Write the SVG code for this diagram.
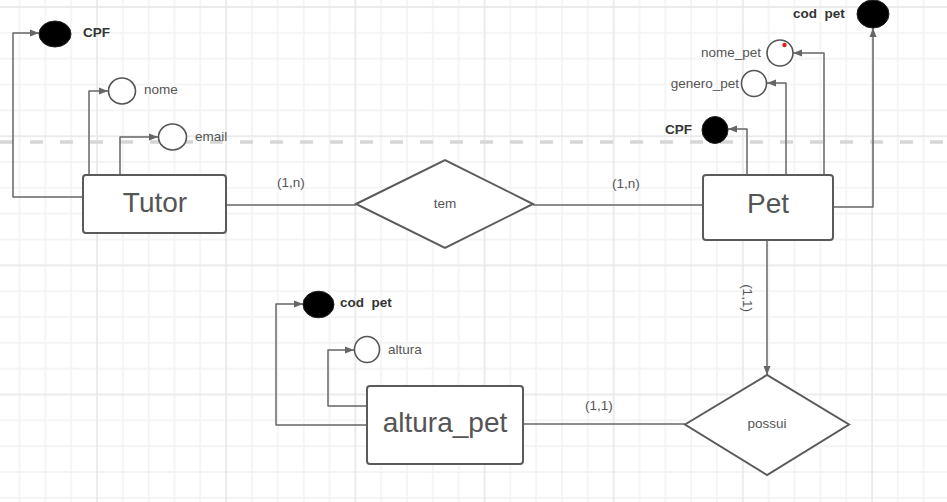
<svg xmlns="http://www.w3.org/2000/svg" width="947" height="502" viewBox="0 0 947 502">
<style>
.ent{fill:#fff;stroke:#5a5a5a;stroke-width:2}
.rel{fill:#fff;stroke:#5a5a5a;stroke-width:2}
.att{fill:#fff;stroke:#555;stroke-width:1.6}
.key{fill:#000;stroke:#222;stroke-width:1}
.con{fill:none;stroke:#666;stroke-width:1.5;stroke-linejoin:round}
.big{font-family:"Liberation Sans",Arial,sans-serif;font-size:28px;fill:#555;text-anchor:middle}
.lbl{font-family:"Liberation Sans",Arial,sans-serif;font-size:13.5px;fill:#555}
.bold{font-family:"Liberation Sans",Arial,sans-serif;font-size:13.5px;font-weight:bold;fill:#333}
.mid{text-anchor:middle}
.end{text-anchor:end}
</style>
<defs>
<pattern id="grid" patternUnits="userSpaceOnUse" x="84.083" y="-5.917" width="129.167" height="129.167">
<rect x="38" y="0" width="1.5" height="129.167" fill="#f2f2f2"/>
<rect x="63.83" y="0" width="1.5" height="129.167" fill="#f2f2f2"/>
<rect x="89.67" y="0" width="1.5" height="129.167" fill="#f2f2f2"/>
<rect x="115.5" y="0" width="1.5" height="129.167" fill="#f2f2f2"/>
<rect x="0" y="38" width="129.167" height="1.5" fill="#f2f2f2"/>
<rect x="0" y="63.83" width="129.167" height="1.5" fill="#f2f2f2"/>
<rect x="0" y="89.67" width="129.167" height="1.5" fill="#f2f2f2"/>
<rect x="0" y="115.5" width="129.167" height="1.5" fill="#f2f2f2"/>
<rect x="12.17" y="0" width="1.6" height="129.167" fill="#e7e7e7"/>
<rect x="0" y="12.17" width="129.167" height="1.6" fill="#e7e7e7"/>
</pattern>
<marker id="arr" markerUnits="userSpaceOnUse" markerWidth="10" markerHeight="8" refX="9" refY="4" orient="auto">
<path d="M0,0.5 L9,4 L0,7.5 z" fill="#666"/>
</marker>
</defs>
<rect width="947" height="502" fill="#fff"/>
<rect width="947" height="502" fill="url(#grid)"/>
<line x1="0" y1="142" x2="947" y2="142" stroke="#d6d6d6" stroke-width="3.5" stroke-dasharray="13,17"/>

<g id="connectors">
<path class="con" d="M226,205 H356"/>
<path class="con" d="M533,205 H703"/>
<path class="con" d="M523,424 H685"/>
<path class="con" d="M767,240 V375" marker-end="url(#arr)"/>
<path class="con" d="M83,197 H13 V33 H39" marker-end="url(#arr)"/>
<path class="con" d="M89,175 V91 H108" marker-end="url(#arr)"/>
<path class="con" d="M120,175 V137 H158" marker-end="url(#arr)"/>
<path class="con" d="M833,207 H873 V28" marker-end="url(#arr)"/>
<path class="con" d="M824,175 V53 H793" marker-end="url(#arr)"/>
<path class="con" d="M786,175 V83 H767" marker-end="url(#arr)"/>
<path class="con" d="M747,175 V129 H728" marker-end="url(#arr)"/>
<path class="con" d="M367,425 H276 V304 H303" marker-end="url(#arr)"/>
<path class="con" d="M367,406 H328 V350 H354" marker-end="url(#arr)"/>
<text class="lbl" x="277" y="187">(1,n)</text>
<text class="lbl" x="612" y="188">(1,n)</text>
<text class="lbl" x="585" y="410">(1,1)</text>
<text class="lbl mid" transform="translate(743,298) rotate(90)">(1,1)</text>
</g>

<g id="tutor">
<rect class="ent" x="83" y="175" width="143" height="58" rx="3"/>
<text class="big" x="155" y="212">Tutor</text>
</g>
<g id="pet">
<rect class="ent" x="703" y="175" width="130" height="65" rx="3"/>
<text class="big" x="768" y="213">Pet</text>
</g>
<g id="altura_pet">
<rect class="ent" x="367" y="386" width="156" height="78" rx="3"/>
<text class="big" x="445" y="432">altura_pet</text>
</g>
<g id="tem">
<polygon class="rel" points="356,204 445,160 533,204 445,248"/>
<text class="lbl mid" x="445" y="208">tem</text>
</g>
<g id="possui">
<polygon class="rel" points="685,424.5 767,375 849,424.5 767,475"/>
<text class="lbl mid" x="767" y="428">possui</text>
</g>

<g id="tutor_cpf">
<ellipse class="key" cx="55" cy="34" rx="16" ry="13"/>
<text class="bold" x="83" y="37">CPF</text>
</g>
<g id="tutor_nome">
<ellipse class="att" cx="122" cy="91" rx="13.5" ry="13"/>
<text class="lbl" x="144" y="94">nome</text>
</g>
<g id="tutor_email">
<ellipse class="att" cx="172.5" cy="137" rx="14" ry="13"/>
<text class="lbl" x="195" y="141">email</text>
</g>

<g id="pet_cod_pet">
<ellipse class="key" cx="873" cy="14" rx="16" ry="14"/>
<text class="bold" x="793" y="18" xml:space="preserve">cod  pet</text>
</g>
<g id="pet_nome_pet">
<ellipse class="att" cx="780" cy="53" rx="13" ry="13"/>
<circle cx="784.5" cy="45" r="2.2" fill="#e21b1b"/>
<text class="lbl end" x="761" y="57">nome_pet</text>
</g>
<g id="pet_genero_pet">
<ellipse class="att" cx="754" cy="83.5" rx="12.5" ry="13"/>
<text class="lbl end" x="739" y="88">genero_pet</text>
</g>
<g id="pet_cpf">
<ellipse class="key" cx="715" cy="130" rx="13" ry="13.5"/>
<text class="bold end" x="692" y="134">CPF</text>
</g>

<g id="alt_cod_pet">
<ellipse class="key" cx="318.5" cy="304.5" rx="15.5" ry="13.3"/>
<text class="bold" x="340" y="307" xml:space="preserve">cod  pet</text>
</g>
<g id="alt_altura">
<ellipse class="att" cx="367" cy="349.5" rx="12.5" ry="13"/>
<text class="lbl" x="388" y="354">altura</text>
</g>
</svg>
